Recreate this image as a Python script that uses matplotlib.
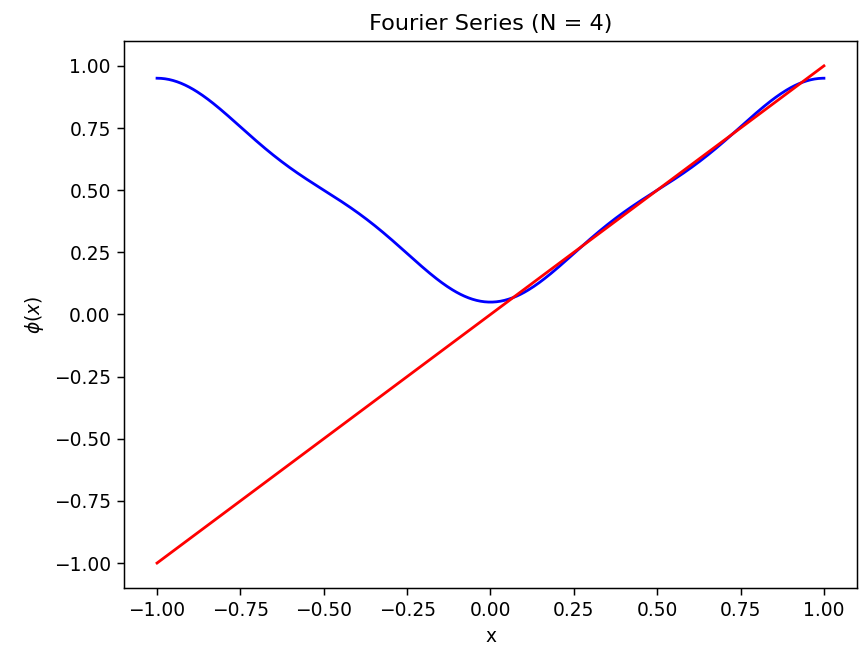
import numpy as np
import matplotlib
matplotlib.use('Agg')
import matplotlib.pyplot as plt

# Fourier-koeffisienter (cos(n*pi*x)) lest av figuren, N = 4
N = 4
a0 = 0.5
a_n = [-0.4053, 0.0, -0.0450, 0.0]

# rett linje (funksjonen som tilnaermes)
linje_x = [-1.0, 1.0]
linje_y = [-1.0, 1.0]

x = np.linspace(-1, 1, 500)
fourier = a0 + sum(a * np.cos((n + 1) * np.pi * x) for n, a in enumerate(a_n))

dpi = 134
fig = plt.figure(figsize=(859 / dpi, 653 / dpi), dpi=dpi)
ax = fig.add_axes([0.144, 0.0997, 0.854, 0.8375])

ax.plot(x, fourier, color='b')
ax.plot(linje_x, linje_y, color='r')

ax.set_title(f'Fourier Series (N = {N})')
ax.set_xlabel('x')
ax.set_ylabel(r'$\phi(x)$')
ax.set_xticks(np.arange(-1, 1.01, 0.25))
ax.set_yticks(np.arange(-1, 1.01, 0.25))

fig.savefig('out.png', dpi=dpi)
